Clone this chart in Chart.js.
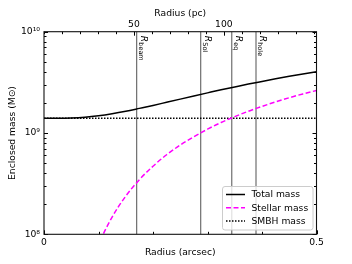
<!DOCTYPE html>
<html><head><meta charset="utf-8">
<script src="https://cdn.jsdelivr.net/npm/chart.js@4"></script>
<style>html,body{margin:0;padding:0;background:#fff}canvas{display:block}</style>
</head><body>
<canvas id="c" width="352" height="264"></canvas>
<script>
// ---- data ----
const radius      = [0, 0.025, 0.05, 0.075, 0.1, 0.125, 0.15, 0.175, 0.2, 0.225, 0.25, 0.275, 0.3, 0.325, 0.35, 0.375, 0.4, 0.425, 0.45, 0.475, 0.5];
const totalMass   = [1.40e9, 1.40e9, 1.407e9, 1.432e9, 1.48e9, 1.55e9, 1.64e9, 1.75e9, 1.87e9, 2.01e9, 2.16e9, 2.32e9, 2.49e9, 2.67e9, 2.85e9, 3.04e9, 3.23e9, 3.43e9, 3.63e9, 3.83e9, 4.03e9];
const stellarMass = [null, null, 7.4e6, 3.18e7, 7.85e7, 1.48e8, 2.38e8, 3.46e8, 4.70e8, 6.10e8, 7.60e8, 9.20e8, 1.09e9, 1.27e9, 1.45e9, 1.64e9, 1.83e9, 2.03e9, 2.23e9, 2.43e9, 2.63e9];
const smbhMass = 1.4e9;
const markerRadius = [0.170, 0.2875, 0.3445, 0.389];
const markerSub    = ['beam', 'SoI', 'eq', 'hole'];
const pcPerArcsec = 303;
const xTicks  = [0, 0.1, 0.2, 0.3, 0.4, 0.5];
const xLabels = ['0', '', '', '', '', '0.5'];
const pcTicks  = [0, 10, 20, 30, 40, 50, 60, 70, 80, 90, 100, 110, 120, 130, 140, 150];
const pcLabels = ['', '', '', '', '', '50', '', '', '', '', '100', '', '', '', '', ''];
const yTicks  = [1e8, 2e8, 3e8, 4e8, 5e8, 6e8, 7e8, 8e8, 9e8, 1e9, 2e9, 3e9, 4e9, 5e9, 6e9, 7e9, 8e9, 9e9, 1e10];
const yLabels = ['10⁸', '', '', '', '', '', '', '', '', '10⁹', '', '', '', '', '', '', '', '', '10¹⁰'];
const xRange = [0, 0.5];
const yRange = [1e8, 1e10];

// ---- chart ----
const FONT = "'DejaVu Sans', sans-serif";
const FS = 9.2;
Chart.defaults.font.family = FONT;
Chart.defaults.font.size = FS;
Chart.defaults.color = '#000';

const PLOT = {left: 44, right: 316.5, top: 31.7, bottom: 234.3};

const datasets = [
  {label: 'Total mass', data: radius.map((r, i) => ({x: r, y: totalMass[i]})),
   borderColor: '#000', borderWidth: 1.5, pointRadius: 0, cubicInterpolationMode: 'monotone', legend: true},
  {label: 'Stellar mass', data: radius.map((r, i) => ({x: r, y: stellarMass[i]})),
   borderColor: '#ff00ff', borderWidth: 1.5, borderDash: [5, 2.5], pointRadius: 0, cubicInterpolationMode: 'monotone', legend: true},
  {label: 'SMBH mass', data: xRange.map(r => ({x: r, y: smbhMass})),
   borderColor: '#000', borderWidth: 1.5, borderDash: [1.5, 1.5], pointRadius: 0, legend: true},
];
markerRadius.forEach((r, i) => {
  datasets.push({label: 'R_' + markerSub[i], data: yRange.map(v => ({x: r, y: v})),
    borderColor: '#6e6e6e', borderWidth: 1.2, pointRadius: 0, marker: markerSub[i]});
});

function isMajor(label) { return label !== ''; }

const framePlugin = {
  id: 'frame',
  afterDatasetsDraw(chart) {
    const ctx = chart.ctx, a = chart.chartArea;
    const xs = chart.scales.x, x2 = chart.scales.x2, ys = chart.scales.y;
    ctx.save();
    // marker labels
    chart.data.datasets.forEach(ds => {
      if (!ds.marker) return;
      const px = xs.getPixelForValue(ds.data[0].x);
      ctx.save();
      ctx.translate(px + 4.2, a.top + 4);
      ctx.rotate(Math.PI / 2);
      ctx.fillStyle = '#000';
      ctx.textBaseline = 'alphabetic';
      ctx.font = 'italic 9px ' + FONT;
      ctx.fillText('R', 0, 0);
      const w = ctx.measureText('R').width;
      ctx.font = '6.5px ' + FONT;
      ctx.fillText(ds.marker, w + 0.3, 1.8);
      ctx.restore();
    });
    // inward ticks
    ctx.strokeStyle = '#000';
    ctx.lineWidth = 1;
    ctx.beginPath();
    xTicks.forEach((v, i) => {
      const px = Math.round(xs.getPixelForValue(v)) + 0.5;
      const len = isMajor(xLabels[i]) ? 4 : 2.5;
      ctx.moveTo(px, a.bottom); ctx.lineTo(px, a.bottom - len);
    });
    pcTicks.forEach((v, i) => {
      const px = Math.round(x2.getPixelForValue(v)) + 0.5;
      const len = isMajor(pcLabels[i]) ? 4 : 2.5;
      ctx.moveTo(px, a.top); ctx.lineTo(px, a.top + len);
    });
    yTicks.forEach((v, i) => {
      const py = Math.round(ys.getPixelForValue(v)) + 0.5;
      const len = isMajor(yLabels[i]) ? 4 : 2.5;
      ctx.moveTo(a.left, py); ctx.lineTo(a.left + len, py);
      ctx.moveTo(a.right, py); ctx.lineTo(a.right - len, py);
    });
    ctx.stroke();
    // frame
    ctx.lineWidth = 1.1;
    ctx.strokeStyle = '#111';
    ctx.strokeRect(a.left, a.top, a.right - a.left, a.bottom - a.top);
    // legend
    const lx = 222.5, ly = 186.5, lw = 90.5, lh = 43.5, r = 2.5;
    ctx.beginPath();
    ctx.moveTo(lx + r, ly);
    ctx.arcTo(lx + lw, ly, lx + lw, ly + lh, r);
    ctx.arcTo(lx + lw, ly + lh, lx, ly + lh, r);
    ctx.arcTo(lx, ly + lh, lx, ly, r);
    ctx.arcTo(lx, ly, lx + lw, ly, r);
    ctx.closePath();
    ctx.fillStyle = 'rgba(255,255,255,0.8)';
    ctx.fill();
    ctx.strokeStyle = '#cccccc';
    ctx.lineWidth = 1;
    ctx.stroke();
    let row = 0;
    chart.data.datasets.forEach(ds => {
      if (!ds.legend) return;
      const cy = 194.5 + row * 13.3;
      ctx.save();
      ctx.strokeStyle = ds.borderColor;
      ctx.lineWidth = ds.borderWidth;
      ctx.setLineDash(ds.borderDash || []);
      ctx.beginPath();
      ctx.moveTo(226, cy); ctx.lineTo(245, cy);
      ctx.stroke();
      ctx.restore();
      ctx.fillStyle = '#000';
      ctx.font = FS + 'px ' + FONT;
      ctx.textBaseline = 'middle';
      ctx.fillText(ds.label, 251.5, cy + 0.5);
      row++;
    });
    ctx.restore();
  }
};

new Chart(document.getElementById('c'), {
  type: 'line',
  data: {datasets},
  options: {
    responsive: false,
    animation: false,
    devicePixelRatio: 1,
    layout: {padding: {left: 0, right: 352 - PLOT.right, top: 0, bottom: 0}},
    plugins: {legend: {display: false}, tooltip: {enabled: false}},
    scales: {
      x: {
        type: 'linear', position: 'bottom', min: xRange[0], max: xRange[1],
        afterBuildTicks: s => { s.ticks = xTicks.map(v => ({value: v})); },
        afterFit: s => { s.height = 264 - PLOT.bottom; },
        grid: {display: false, drawTicks: false},
        border: {display: false},
        ticks: {autoSkip: false, maxRotation: 0, padding: 2.5,
          callback: (v) => xLabels[xTicks.indexOf(v)] ?? ''},
        title: {display: true, text: 'Radius (arcsec)', padding: {top: 0, bottom: 5.5}}
      },
      x2: {
        type: 'linear', position: 'top', min: 0, max: xRange[1] * pcPerArcsec,
        afterBuildTicks: s => { s.ticks = pcTicks.map(v => ({value: v})); },
        afterFit: s => { s.height = PLOT.top; },
        grid: {display: false, drawTicks: false},
        border: {display: false},
        ticks: {autoSkip: false, maxRotation: 0, padding: 1.5,
          callback: (v) => pcLabels[pcTicks.indexOf(v)] ?? ''},
        title: {display: true, text: 'Radius (pc)', padding: {top: 8.5, bottom: 0}}
      },
      y: {
        type: 'logarithmic', position: 'left', min: yRange[0], max: yRange[1],
        afterBuildTicks: s => { s.ticks = yTicks.map(v => ({value: v})); },
        afterFit: s => { s.width = PLOT.left; },
        grid: {display: false, drawTicks: false},
        border: {display: false},
        ticks: {autoSkip: false, padding: 4,
          callback: (v) => yLabels[yTicks.indexOf(v)] ?? ''},
        title: {display: true, text: 'Enclosed mass (M⊙)', padding: {top: 7, bottom: 0}}
      }
    }
  },
  plugins: [framePlugin]
});
</script>
</body></html>
